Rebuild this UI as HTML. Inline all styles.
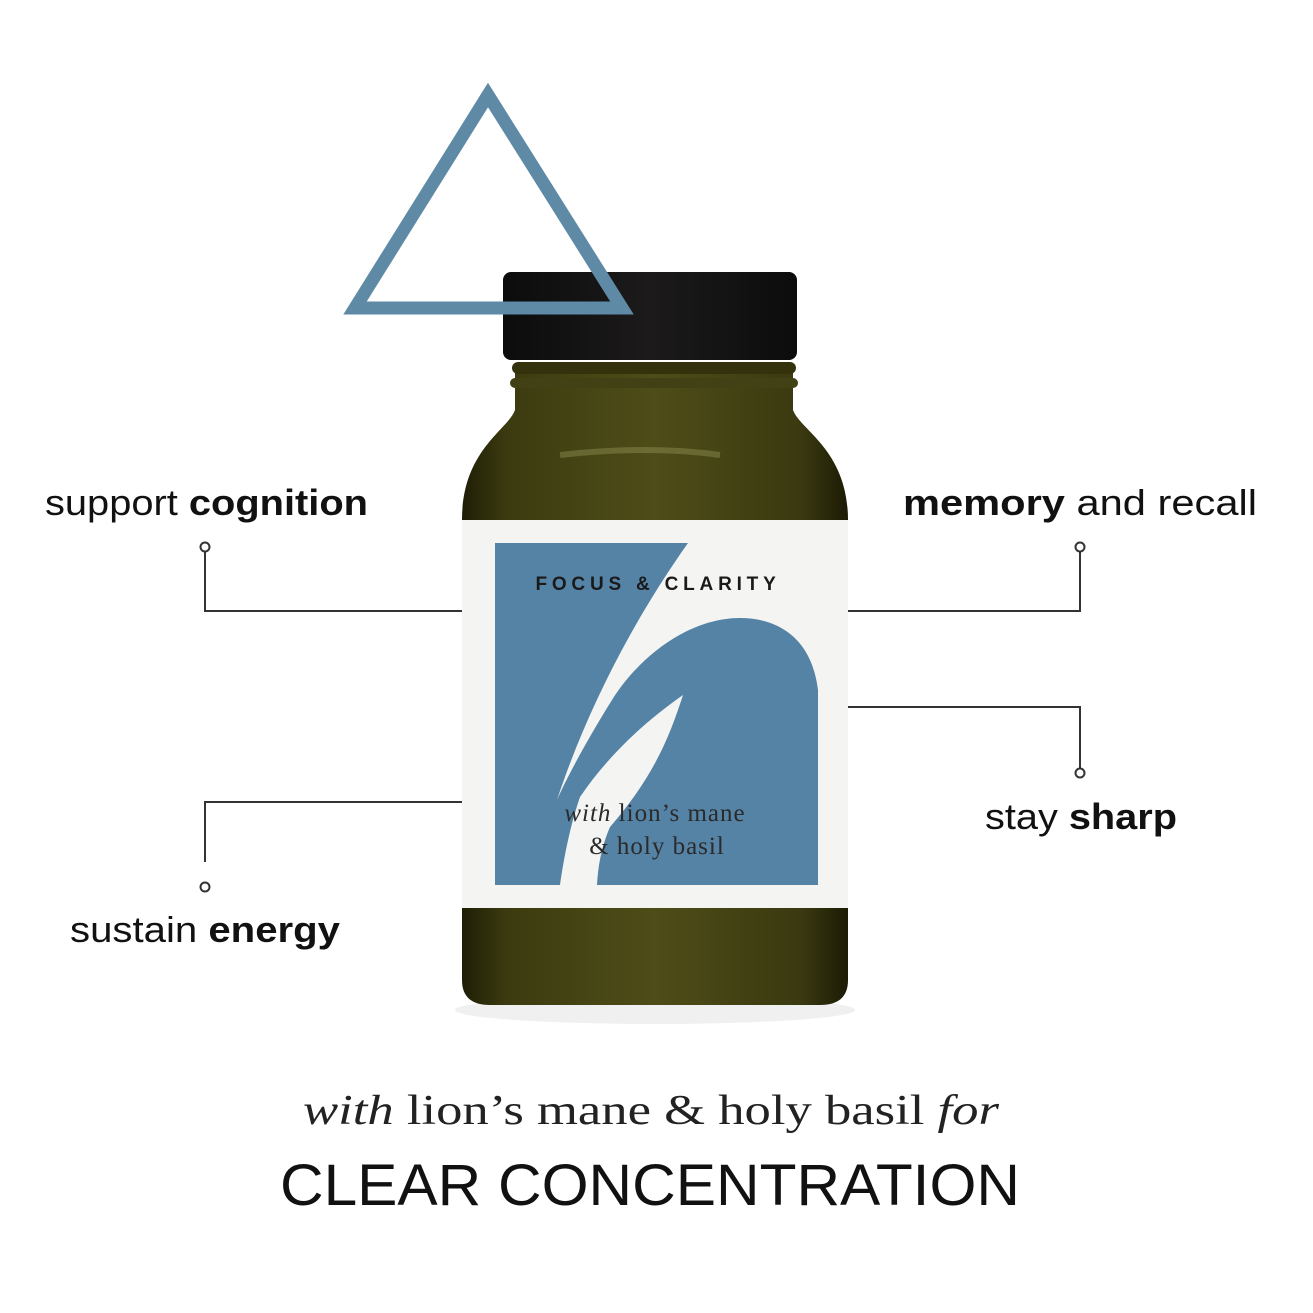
<!DOCTYPE html>
<html><head><meta charset="utf-8"><style>
html,body{margin:0;padding:0;background:#fff;}
svg{display:block}
</style></head><body>
<svg width="1313" height="1313" viewBox="0 0 1313 1313" xmlns="http://www.w3.org/2000/svg">
<defs>
<linearGradient id="glass" x1="0" x2="1" y1="0" y2="0">
<stop offset="0" stop-color="#1f1e06"/><stop offset="0.12" stop-color="#3c3b10"/>
<stop offset="0.5" stop-color="#4e4d18"/><stop offset="0.88" stop-color="#3a3910"/><stop offset="1" stop-color="#1c1b05"/>
</linearGradient>
<linearGradient id="cap" x1="0" x2="1"><stop offset="0" stop-color="#0c0c0c"/><stop offset="0.5" stop-color="#1c1a1a"/><stop offset="1" stop-color="#0c0c0c"/></linearGradient>
</defs>
<rect width="1313" height="1313" fill="#fff"/>
<ellipse cx="655" cy="1010" rx="200" ry="14" fill="#f0f0f0"/>
<path d="M515,365 L793,365 L793,410 C800,430 848,450 848,520 L848,980 Q848,1005 820,1005 L490,1005 Q462,1005 462,980 L462,520 C462,450 508,430 515,410 Z" fill="url(#glass)"/>
<rect x="512" y="362" width="284" height="12" rx="6" fill="#33320d"/>
<rect x="510" y="378" width="288" height="10" rx="5" fill="#424116"/>
<path d="M560,455 Q650,445 720,455" stroke="#8a8a50" stroke-width="6" fill="none" opacity="0.5"/>
<rect x="503" y="272" width="294" height="88" rx="8" fill="url(#cap)"/>
<rect x="462" y="520" width="386" height="388" fill="#f4f4f2"/>
<rect x="495" y="543" width="323" height="342" fill="#5583a6"/>
<path d="M688,543 L818,543 L818,690 C812,640 780,618 740,618 C690,618 640,655 612,700 C590,735 568,775 557,800 C585,715 630,625 688,543 Z" fill="#f4f4f2"/>
<path d="M683,695 C670,735 655,775 610,827 C600,850 598,870 597,885 L560,885 C565,850 572,820 580,797 C605,760 640,725 683,695 Z" fill="#f4f4f2"/>
<text x="658" y="590" text-anchor="middle" font-family="Liberation Sans, sans-serif" font-size="19" font-weight="bold" letter-spacing="4.8" fill="#1a1a1a">FOCUS &amp; CLARITY</text>
<text x="655" y="821" text-anchor="middle" font-family="Liberation Serif, serif" font-size="25" fill="#2a2a2a" letter-spacing="1"><tspan font-style="italic">with</tspan> lion’s mane</text>
<text x="657" y="854" text-anchor="middle" font-family="Liberation Serif, serif" font-size="25" fill="#2a2a2a" letter-spacing="1">&amp; holy basil</text>
<polygon points="488,95 355,308 622,308" fill="none" stroke="#5f8aa6" stroke-width="13" stroke-linejoin="miter"/>
<g stroke="#333" stroke-width="2" fill="none">
<polyline points="205,551 205,611 462,611"/>
<polyline points="462,802 205,802 205,862"/>
<polyline points="1080,551 1080,611 848,611"/>
<polyline points="848,707 1080,707 1080,768"/>
<circle cx="205" cy="547" r="4.5" fill="#fff"/>
<circle cx="205" cy="887" r="4.5" fill="#fff"/>
<circle cx="1080" cy="547" r="4.5" fill="#fff"/>
<circle cx="1080" cy="773" r="4.5" fill="#fff"/>
</g>
<g font-family="Liberation Sans, sans-serif" font-size="36" fill="#111">
<text x="45" y="515" textLength="323" lengthAdjust="spacingAndGlyphs">support <tspan font-weight="bold">cognition</tspan></text>
<text x="903" y="515" textLength="354" lengthAdjust="spacingAndGlyphs"><tspan font-weight="bold">memory</tspan> and recall</text>
<text x="985" y="829" textLength="192" lengthAdjust="spacingAndGlyphs">stay <tspan font-weight="bold">sharp</tspan></text>
<text x="70" y="942" textLength="270" lengthAdjust="spacingAndGlyphs">sustain <tspan font-weight="bold">energy</tspan></text>
</g>
<text x="651" y="1124" text-anchor="middle" font-family="Liberation Serif, serif" font-size="42" fill="#222" textLength="696" lengthAdjust="spacingAndGlyphs"><tspan font-style="italic">with</tspan> lion’s mane &amp; holy basil <tspan font-style="italic">for</tspan></text>
<text x="650" y="1205" text-anchor="middle" font-family="Liberation Sans, sans-serif" font-size="58" fill="#111" textLength="740" lengthAdjust="spacingAndGlyphs">CLEAR CONCENTRATION</text>
</svg>
</body></html>
